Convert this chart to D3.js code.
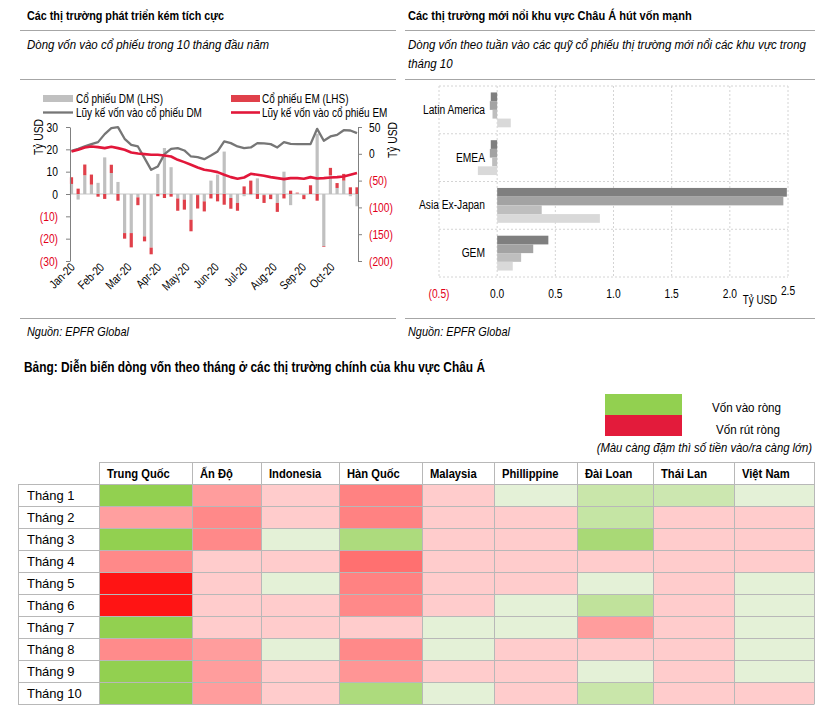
<!DOCTYPE html>
<html><head><meta charset="utf-8">
<script src="https://cdn.jsdelivr.net/npm/d3@7"></script>
<style>
body{margin:0;background:#fff}
svg text{font-family:"Liberation Sans",Arial,sans-serif;fill:#000}
</style>
</head><body>
<svg id="c" width="818" height="715"></svg>
<script>
// ================= DATA =================
// Left chart: weekly flows (bn USD, LHS) and cumulative flows (bn USD, RHS)
const dmWeekly = [4.5,-2.5,8.4,4.2,5,16.4,9.4,5.4,-17.5,-17.5,-1.5,-19,-24,9,20.6,12,-2,-2.5,-11.5,-0.5,-3.3,6,
                  8.7,19,-1.8,-4,-1,-0.5,7,-0.5,-0.3,-4,10,-5,0.3,-0.5,0,27,-23.4,8.4,2.7,6,-1,-5.5];
const emWeekly = [3,2.4,4.8,4.5,-1.2,-2.2,3.7,-3,-2.5,-6.4,-3.5,-2.2,-3,-1,-1.8,-1.2,-5.5,-4.5,-5.2,-6,-4.5,-2,
                  -3.3,-4.8,-4.8,-3.5,3.4,6,-2.2,-3.5,-2,-4,-2,1.5,0.3,-1.8,3.9,-3,-0.3,3.3,2.2,3,3,3];
const dmCumulative = [5.6,9.3,13.7,18,21.8,36.7,47.9,49.8,28,16.8,13.7,-8,-29.9,-23.6,-0.6,9.3,10.6,6.2,-5,-6.2,-10,-3.1,
                      4.4,23,19.9,13.7,10.6,11.8,19.9,19.3,18,11.8,21.8,18.7,18,18,18,46.6,24.3,32.3,35.4,44,43.5,38.6];
const emCumulative = [4.4,7.5,11.8,13.7,12.4,10.6,13,10.6,7.5,2.5,0.6,-0.6,-1.9,-1.9,-3.1,-5,-11.2,-15.5,-20.5,-25.5,-29.9,-31.7,
                      -34.2,-39.2,-43.5,-46.6,-44.2,-37.3,-39.2,-41,-43.5,-45.4,-47.3,-45.4,-45.4,-46.6,-43.5,-46,-45.4,-44.2,-43.5,-42.3,-39.2,-36];
const firstWeek = "2020-01-01";
const monthLabels = ["Jan-20","Feb-20","Mar-20","Apr-20","May-20","Jun-20","Jul-20","Aug-20","Sep-20","Oct-20"];
const leftTicks = [30,20,10,0,-10,-20,-30];
const rightTicks = [50,0,-50,-100,-150,-200];
const legendLabels = ["Cổ phiếu DM (LHS)","Cổ phiếu EM (LHS)","Lũy kế vốn vào cổ phiếu DM","Lũy kế vốn vào cổ phiếu EM"];

// Right chart: weekly flows in October (bn USD)
const regions = ["Latin America","EMEA","Asia Ex-Japan","GEM"];
const week1 = [-0.055,-0.055,2.49,0.44];
const week2 = [-0.063,-0.063,2.46,0.31];
const week3 = [-0.04,-0.043,0.383,0.206];
const week4 = [0.117,-0.166,0.883,0.134];
const flowTicks = [-0.5,0,0.5,1,1.5,2,2.5];

// Table: monthly flow intensity (+ inflow, - outflow; magnitude = colour strength)
const months = ["Tháng 1","Tháng 2","Tháng 3","Tháng 4","Tháng 5","Tháng 6","Tháng 7","Tháng 8","Tháng 9","Tháng 10"];
const markets = ["Trung Quốc","Ấn Độ","Indonesia","Hàn Quốc","Malaysia","Phillippine","Đài Loan","Thái Lan","Việt Nam"];
const heatValues = [
  [10,-3.3,-1,-4.6,-1,1,4,3.6,1],
  [-3.2,-4.3,-1,-4.6,-1,-1,4.4,-1,-1],
  [10,-4.3,1,7,-1,-1,7.5,-1,-1],
  [-4.3,-1,-1,-5.5,-1,-1,-1,-1,-1],
  [-10,-1,1,-4.6,-1,-1,1,-1,1],
  [-10,-1,-1,-4.3,-1,1,5,-1,1],
  [10,-1,-1,-1,1,1,-3.3,-1,1],
  [-4.2,-3.3,1,-4.3,1,-1,-1,-1,1],
  [10,-3.3,-1,-3.7,-1,-1,1,-1,1],
  [10,-3.3,-1,7,1,-1,4,-1,-1]
];

// ================= LAYOUT =================
const svg = d3.select("#c");
const GRID = "#A6A6A6";
const RED_TXT = "#E2001A";
const FONT = '"Liberation Sans",Arial,sans-serif';

function txt(g, x, y, s, o = {}) {
  const t = g.append("text").attr("x", x).attr("y", y).text(s)
    .style("font-size", (o.size || 12) + "px");
  if (o.bold) t.style("font-weight", "bold");
  if (o.italic) t.style("font-style", "italic");
  if (o.anchor) t.attr("text-anchor", o.anchor);
  if (o.fill) t.style("fill", o.fill);
  if (o.sx) t.attr("data-sx", o.sx);
  return t;
}

// header / separators
[[20,396],[405,815]].forEach(([a,b]) => {
  [30.5, 79.5, 318.5].forEach(y => svg.append("line").attr("x1",a).attr("x2",b).attr("y1",y).attr("y2",y)
    .attr("stroke", GRID).attr("stroke-width",1));
});
txt(svg, 27, 20, "Các thị trường phát triển kém tích cực", {bold:true, size:13, sx:0.83});
txt(svg, 408, 20, "Các thị trường mới nổi khu vực Châu Á hút vốn mạnh", {bold:true, size:13, sx:0.85});
txt(svg, 27, 49, "Dòng vốn vào cổ phiếu trong 10 tháng đầu năm", {italic:true, size:13.5, sx:0.85});
txt(svg, 408, 49, "Dòng vốn theo tuần vào các quỹ cổ phiếu thị trường mới nổi các khu vực trong", {italic:true, size:13.5, sx:0.85});
txt(svg, 408, 68, "tháng 10", {italic:true, size:13.5, sx:0.85});
txt(svg, 27, 336, "Nguồn: EPFR Global", {italic:true, size:13, sx:0.84});
txt(svg, 408, 336, "Nguồn: EPFR Global", {italic:true, size:13, sx:0.84});
txt(svg, 24, 372, "Bảng: Diễn biến dòng vốn theo tháng ở các thị trường chính của khu vực Châu Á", {bold:true, size:14, sx:0.85});

// ================= LEFT CHART =================
const L = svg.append("g");
const parse = d3.timeParse("%Y-%m-%d");
const d0 = parse(firstWeek);
const weekDates = dmWeekly.map((_, i) => d3.timeDay.offset(d0, 7 * i));
const xL = d3.scaleTime().domain([weekDates[0], weekDates[weekDates.length - 1]]).range([71.5, 357]);
const yL = d3.scaleLinear().domain([-30, 30]).range([261, 127]);
const yR = d3.scaleLinear().domain([-200, 50]).range([261, 127]);

const rows = weekDates.map((d, i) => ({date: d, DM: dmWeekly[i], EM: emWeekly[i]}));
const stacked = d3.stack().keys(["DM","EM"]).offset(d3.stackOffsetDiverging)(rows);
const barColor = {DM: "#C0C0C0", EM: "#E0404A"};

// zero line
L.append("line").attr("x1", 70).attr("x2", 358).attr("y1", yL(0)).attr("y2", yL(0))
  .attr("stroke", "#C8C8C8").attr("stroke-width", 1);

stacked.forEach(s => {
  L.append("g").selectAll("rect").data(s).join("rect")
    .attr("x", d => xL(d.data.date) - 1.6)
    .attr("width", 3.2)
    .attr("y", d => yL(Math.max(d[0], d[1])))
    .attr("height", d => Math.abs(yL(d[0]) - yL(d[1])))
    .attr("fill", barColor[s.key]);
});

const lineGen = arr => d3.line().x((d, i) => xL(weekDates[i])).y(d => yR(d))(arr);
L.append("path").attr("d", lineGen(dmCumulative)).attr("fill", "none").attr("stroke", "#767676").attr("stroke-width", 2.3).attr("stroke-linejoin","round");
L.append("path").attr("d", lineGen(emCumulative)).attr("fill", "none").attr("stroke", "#E2173A").attr("stroke-width", 2.6).attr("stroke-linejoin","round");

const fmtInt = v => v < 0 ? "(" + Math.abs(v) + ")" : String(v);
function styleAxis(g) {
  g.selectAll("path, line").attr("stroke", "#808080");
  g.selectAll("text").style("font-size", "12.5px").style("font-family", FONT)
    .style("fill", d => d < 0 ? RED_TXT : "#000");
}
const axL = L.append("g").attr("transform", "translate(70,0)")
  .call(d3.axisLeft(yL).tickValues(leftTicks).tickSize(4).tickSizeOuter(0).tickPadding(8).tickFormat(fmtInt));
styleAxis(axL);
const axR = L.append("g").attr("transform", "translate(358,0)")
  .call(d3.axisRight(yR).tickValues(rightTicks).tickSize(4).tickSizeOuter(0).tickPadding(7).tickFormat(fmtInt));
styleAxis(axR);

// axis titles
txt(L, 0, 0, "Tỷ USD", {size:12.5, anchor:"middle"}).attr("transform", "translate(43,137) rotate(-90)");
txt(L, 0, 0, "Tỷ USD", {size:12.5, anchor:"middle"}).attr("transform", "translate(397,140) rotate(-90)");

// month labels
monthLabels.forEach((m, i) => {
  const x = xL(new Date(2020, i, 1));
  txt(L, 0, 0, m, {size:12, anchor:"end"}).attr("transform", `translate(${x + 4},${268}) rotate(-45)`);
});

// legend
L.append("rect").attr("x", 43).attr("y", 95).attr("width", 30).attr("height", 7).attr("fill", barColor.DM);
L.append("rect").attr("x", 231).attr("y", 95).attr("width", 29).attr("height", 7).attr("fill", barColor.EM);
L.append("line").attr("x1", 43).attr("x2", 73).attr("y1", 112.5).attr("y2", 112.5).attr("stroke", "#767676").attr("stroke-width", 2.3);
L.append("line").attr("x1", 231).attr("x2", 260).attr("y1", 112.5).attr("y2", 112.5).attr("stroke", "#E2173A").attr("stroke-width", 2.6);
txt(L, 76, 103, legendLabels[0], {size:12.5, sx:0.8});
txt(L, 262, 103, legendLabels[1], {size:12.5, sx:0.8});
txt(L, 76, 117, legendLabels[2], {size:12.5, sx:0.8});
txt(L, 262, 117, legendLabels[3], {size:12.5, sx:0.8});

// ================= RIGHT CHART =================
const R = svg.append("g");
const xR = d3.scaleLinear().domain([-0.5, 2.5]).range([439, 788]);
const yBand = d3.scaleBand().domain(regions).range([86, 277]);
const seriesNames = ["w1","w2","w3","w4"];
const seriesVals = {w1: week1, w2: week2, w3: week3, w4: week4};
const seriesCol = {w1: "#7F7F7F", w2: "#A3A3A3", w3: "#BEBEBE", w4: "#D9D9D9"};
const bw = yBand.bandwidth();
const yInner = d3.scaleBand().domain(seriesNames).range([bw * 0.135, bw * 0.865]);

// grid
const dash = "2,2";
flowTicks.forEach(t => R.append("line").attr("x1", xR(t)).attr("x2", xR(t)).attr("y1", 86).attr("y2", 277)
  .attr("stroke", "#D4D4D4").attr("stroke-dasharray", dash));
[...regions.map(r => yBand(r)), 277].forEach(y => R.append("line").attr("x1", 439).attr("x2", 788).attr("y1", y).attr("y2", y)
  .attr("stroke", "#D4D4D4").attr("stroke-dasharray", dash));

seriesNames.forEach(s => {
  R.append("g").selectAll("rect").data(regions).join("rect")
    .attr("y", r => yBand(r) + yInner(s))
    .attr("height", yInner.bandwidth())
    .attr("x", (r, i) => xR(Math.min(0, seriesVals[s][i])))
    .attr("width", (r, i) => Math.abs(xR(seriesVals[s][i]) - xR(0)))
    .attr("fill", seriesCol[s]);
});

regions.forEach(r => txt(R, 485, yBand(r) + bw / 2 + 4, r, {size:12.5, anchor:"end"}));
const fmtDec = v => v < 0 ? "(" + d3.format(".1f")(Math.abs(v)) + ")" : d3.format(".1f")(v);
flowTicks.forEach(t => txt(R, xR(t), t === 2.5 ? 295 : 298, fmtDec(t), {size:12.5, anchor:"middle", fill: t < 0 ? RED_TXT : "#000"}));
txt(R, 760, 304, "Tỷ USD", {size:12, anchor:"middle"});

// ================= HEATMAP TABLE =================
const H = svg.append("g");
const colWidths = [93, 69, 78, 83, 72, 83, 76, 81, 80];
const colStart = {};
let acc = 99;
markets.forEach((m, i) => { colStart[m] = acc; acc += colWidths[i]; });
const colW = {}; markets.forEach((m, i) => colW[m] = colWidths[i]);
const yRow = d3.scaleBand().domain(months).range([484, 704]);
const headerTop = 462;

const posScale = d3.scaleLinear().domain([1, 10]).range(["#E4F1D7", "#92D050"]).clamp(true);
const negScale = d3.scaleLinear().domain([-1, -10]).range(["#FFCCCC", "#FF1414"]).clamp(true);
const heatColor = v => v >= 0 ? posScale(v) : negScale(v);

months.forEach((mo, r) => {
  markets.forEach((mk, c) => {
    H.append("rect").attr("x", colStart[mk]).attr("y", yRow(mo))
      .attr("width", colW[mk]).attr("height", yRow.bandwidth())
      .attr("fill", heatColor(heatValues[r][c]));
  });
});
const gridC = "#B8B8B8";
H.append("line").attr("x1", 99).attr("x2", acc).attr("y1", headerTop + 0.5).attr("y2", headerTop + 0.5).attr("stroke", gridC);
[...months.map(m => yRow(m)), 704].forEach(y => H.append("line").attr("x1", 18).attr("x2", acc).attr("y1", y + 0.5).attr("y2", y + 0.5).attr("stroke", gridC));
H.append("line").attr("x1", 18.5).attr("x2", 18.5).attr("y1", 484).attr("y2", 704.5).attr("stroke", gridC);
[...markets.map(m => colStart[m]), acc].forEach(x => H.append("line").attr("x1", x + 0.5).attr("x2", x + 0.5)
  .attr("y1", headerTop).attr("y2", 704.5).attr("stroke", gridC));

markets.forEach(m => txt(H, colStart[m] + 8, 478, m, {bold:true, size:13.5, sx:0.83}));
months.forEach(m => txt(H, 27, yRow(m) + 16, m, {size:13.5, sx:0.96}));

// legend
H.append("rect").attr("x", 605).attr("y", 394).attr("width", 77).attr("height", 21).attr("fill", "#92D050");
H.append("rect").attr("x", 605).attr("y", 415).attr("width", 77).attr("height", 21).attr("fill", "#E31B3B");
txt(H, 712, 412, "Vốn vào ròng", {size:13.5, sx:0.86});
txt(H, 716, 434, "Vốn rút ròng", {size:13.5, sx:0.86});
txt(H, 812, 452, "(Màu càng đậm thì số tiền vào/ra càng lớn)", {size:13, italic:true, anchor:"end", sx:0.87});

// narrow-font emulation: scale each text horizontally (Arial Narrow ≈ 82% of Arial)
svg.selectAll("text").each(function() {
  const sx = +(this.getAttribute("data-sx") || 0.82);
  const x = +(this.getAttribute("x") || 0);
  const tr = this.getAttribute("transform") || "";
  this.setAttribute("x", (x / sx).toFixed(2));
  this.setAttribute("transform", (tr + ` scale(${sx},1)`).trim());
});
</script>
</body></html>
